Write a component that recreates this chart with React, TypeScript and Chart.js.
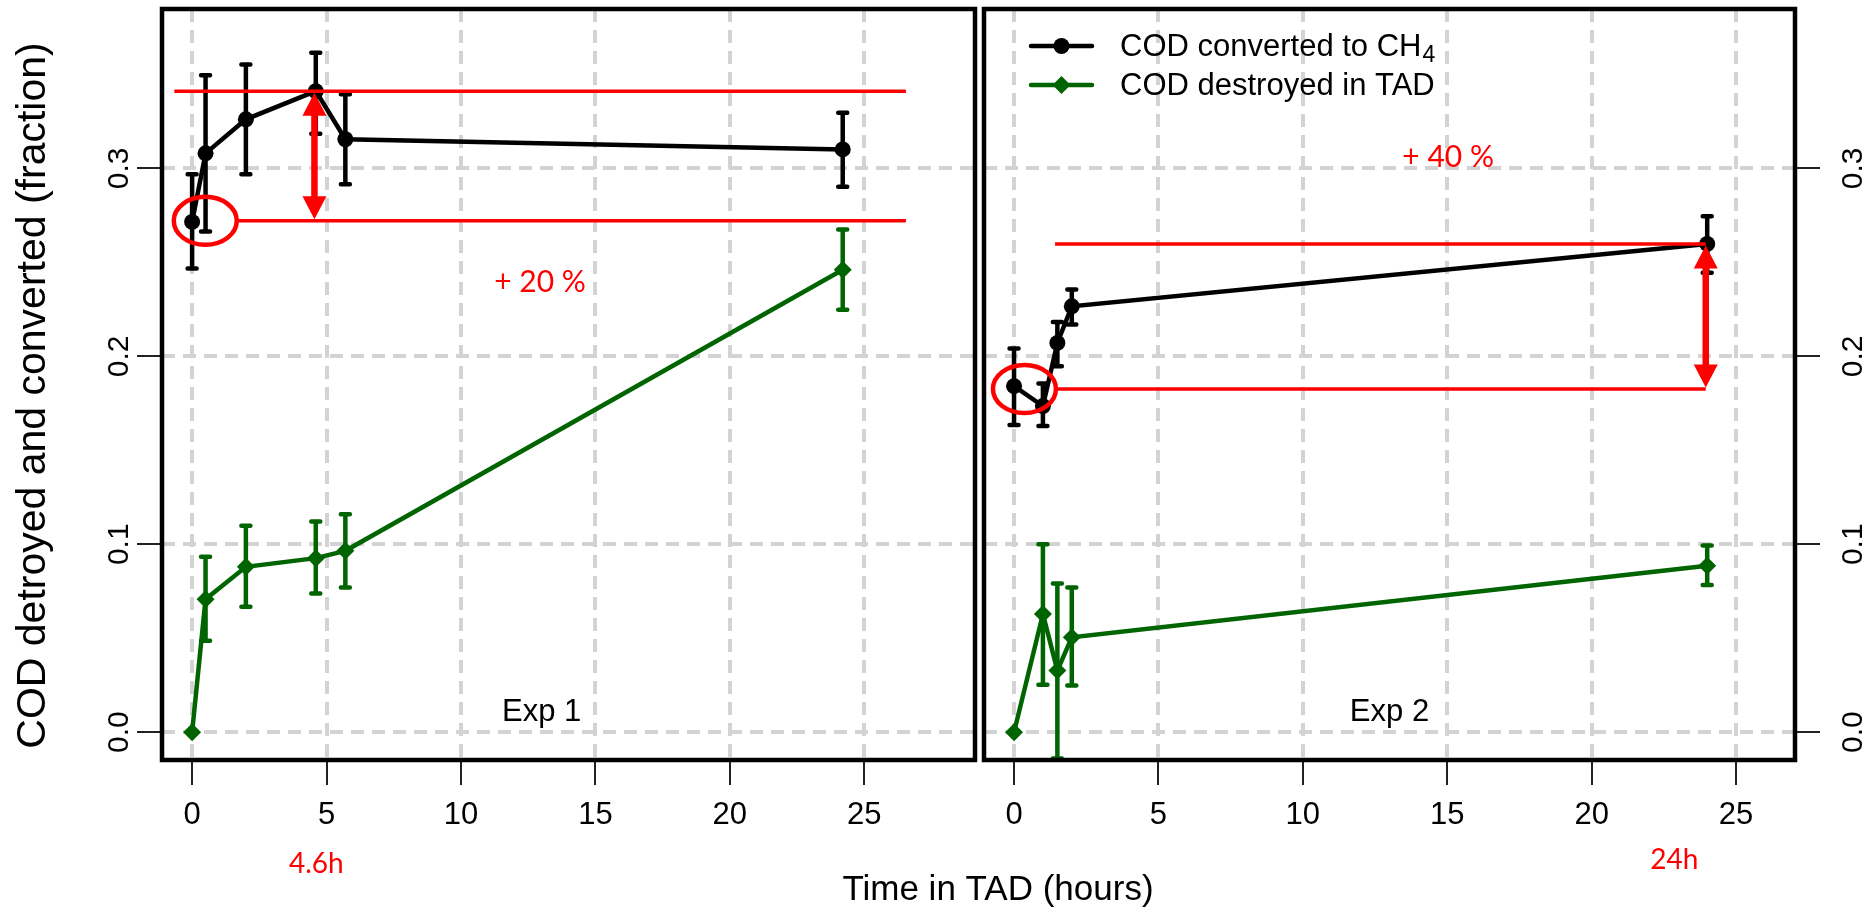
import React, { useEffect, useRef } from "react";
import { Chart, registerables } from "chart.js";

Chart.register(...registerables);

// ---------------- data ----------------
const seriesLabels = ["COD converted to CH₄", "COD destroyed in TAD"];
const panelLabels = ["Exp 1", "Exp 2"];
const gainLabels = ["+ 20 %", "+ 40 %"];
const timeLabels = ["4.6h", "24h"];
const xTitle = "Time in TAD (hours)";
const yTitle = "COD detroyed and converted (fraction)";
const xTickValues = [0, 5, 10, 15, 20, 25];
const yTickValues = [0, 0.1, 0.2, 0.3];

// Exp 1
const exp1Time = [0, 0.5, 2, 4.6, 5.7, 24.2];
const exp1Ch4 = [0.2715, 0.308, 0.3261, 0.3411, 0.3155, 0.3101];
const exp1Ch4Low = [0.2467, 0.2664, 0.2969, 0.3184, 0.2916, 0.2902];
const exp1Ch4High = [0.2969, 0.3496, 0.3553, 0.3615, 0.3394, 0.3296];
const exp1Tad = [0, 0.0708, 0.088, 0.0926, 0.0965, 0.2461];
const exp1TadLow = [0, 0.0487, 0.0668, 0.0738, 0.077, 0.2248];
const exp1TadHigh = [0, 0.0933, 0.1098, 0.1121, 0.116, 0.2675];

// Exp 2
const exp2Time = [0, 1, 1.5, 2, 24];
const exp2Ch4 = [0.1841, 0.1735, 0.2071, 0.2266, 0.2598];
const exp2Ch4Low = [0.1634, 0.1629, 0.1947, 0.2169, 0.2444];
const exp2Ch4High = [0.2041, 0.1855, 0.2183, 0.2355, 0.2745];
const exp2Tad = [0, 0.0629, 0.0328, 0.0505, 0.0886];
const exp2TadLow = [0, 0.0252, -0.014, 0.0248, 0.0783];
const exp2TadHigh = [0, 0.1, 0.0791, 0.077, 0.0993];

// reference levels (baseline, reached level) and marked times
const exp1Levels = [0.2721, 0.3411];
const exp2Levels = [0.1826, 0.2598];
const markedTimes = [4.55, 23.95];

// ---------------- style / layout ----------------
const W = 1866;
const H = 911;
const FONT = '"Liberation Sans", Arial, Helvetica, sans-serif';
const RED_FONT = 'Lato, "Open Sans", sans-serif';
const RED = "#ff0000";
const BLACK = "#000000";
const GREEN = "#006400";
const Y_MIN = -0.0148;
const Y_MAX = 0.3848;
const LINE_W = 4.5;

type PanelCfg = {
  index: number;
  xMin: number;
  xMax: number;
  padLeft: number;
  padRight: number;
  yPosition: "left" | "right";
  yWidth: number;
  times: number[];
  ch4: number[];
  ch4Low: number[];
  ch4High: number[];
  tad: number[];
  tadLow: number[];
  tadHigh: number[];
  levels: number[];
  markedTime: number;
  lineStarts: number[];
  lineEnd: number;
  circleX: number;
  gainX: number;
  gainY: number;
  timeLabelX: number;
  timeLabelDy: number;
  legend: boolean;
  titles: boolean;
};

const panels: PanelCfg[] = [
  {
    index: 0,
    xMin: -1.12,
    xMax: 29.12,
    padLeft: 0,
    padRight: W - 975,
    yPosition: "left",
    yWidth: 162,
    times: exp1Time,
    ch4: exp1Ch4,
    ch4Low: exp1Ch4Low,
    ch4High: exp1Ch4High,
    tad: exp1Tad,
    tadLow: exp1TadLow,
    tadHigh: exp1TadHigh,
    levels: exp1Levels,
    markedTime: markedTimes[0],
    lineStarts: [1.66, -0.66],
    lineEnd: 26.55,
    circleX: 0.49,
    gainX: 12.94,
    gainY: 0.2395,
    timeLabelX: 4.62,
    timeLabelDy: 113,
    legend: false,
    titles: true,
  },
  {
    index: 1,
    xMin: -1.04,
    xMax: 27.04,
    padLeft: 984,
    padRight: 0,
    yPosition: "right",
    yWidth: W - 1795,
    times: exp2Time,
    ch4: exp2Ch4,
    ch4Low: exp2Ch4Low,
    ch4High: exp2Ch4High,
    tad: exp2Tad,
    tadLow: exp2TadLow,
    tadHigh: exp2TadHigh,
    levels: exp2Levels,
    markedTime: markedTimes[1],
    lineStarts: [1.42, 1.42],
    lineEnd: 23.95,
    circleX: 0.36,
    gainX: 15.03,
    gainY: 0.3059,
    timeLabelX: 22.86,
    timeLabelDy: 109,
    legend: true,
    titles: false,
  },
];

function drawDoubleArrow(ctx: CanvasRenderingContext2D, x: number, yTop: number, yBot: number) {
  const head = 23;
  const half = 12;
  ctx.save();
  ctx.strokeStyle = RED;
  ctx.fillStyle = RED;
  ctx.lineWidth = 6.5;
  ctx.lineCap = "butt";
  ctx.beginPath();
  ctx.moveTo(x, yTop + head - 1);
  ctx.lineTo(x, yBot - head + 1);
  ctx.stroke();
  ctx.beginPath();
  ctx.moveTo(x, yTop);
  ctx.lineTo(x - half, yTop + head);
  ctx.lineTo(x + half, yTop + head);
  ctx.closePath();
  ctx.fill();
  ctx.beginPath();
  ctx.moveTo(x, yBot);
  ctx.lineTo(x - half, yBot - head);
  ctx.lineTo(x + half, yBot - head);
  ctx.closePath();
  ctx.fill();
  ctx.restore();
}

function drawMarker(ctx: CanvasRenderingContext2D, kind: string, x: number, y: number, color: string) {
  ctx.save();
  ctx.fillStyle = color;
  ctx.beginPath();
  if (kind === "circle") {
    ctx.arc(x, y, 8, 0, Math.PI * 2);
  } else {
    const r = 9;
    ctx.moveTo(x, y - r);
    ctx.lineTo(x + r, y);
    ctx.lineTo(x, y + r);
    ctx.lineTo(x - r, y);
    ctx.closePath();
  }
  ctx.fill();
  ctx.restore();
}

function drawLabelWithSubscript(ctx: CanvasRenderingContext2D, label: string, x: number, y: number) {
  const subs = "₀₁₂₃₄₅₆₇₈₉";
  let main = "";
  let sub = "";
  for (const ch of label) {
    const k = subs.indexOf(ch);
    if (k >= 0) sub += String(k);
    else main += ch;
  }
  ctx.font = `31px ${FONT}`;
  ctx.textAlign = "left";
  ctx.textBaseline = "alphabetic";
  ctx.fillText(main, x, y);
  if (sub) {
    const w = ctx.measureText(main).width;
    ctx.font = `23px ${FONT}`;
    ctx.fillText(sub, x + w + 1, y + 6);
  }
}

function makePlugin(p: PanelCfg) {
  return {
    id: "panelDecor" + p.index,
    beforeDatasetsDraw(chart: any) {
      const { ctx, chartArea: a } = chart;
      const xs = chart.scales.x;
      const ys = chart.scales.y;
      ctx.save();
      ctx.beginPath();
      ctx.rect(a.left, a.top, a.right - a.left, a.bottom - a.top);
      ctx.clip();
      chart.data.datasets.forEach((ds: any) => {
        ctx.strokeStyle = ds.borderColor;
        ctx.lineWidth = LINE_W;
        ctx.lineCap = "round";
        ds.data.forEach((pt: any, i: number) => {
          const lo = ds.errLow[i];
          const hi = ds.errHigh[i];
          if (hi - lo <= 0) return;
          const x = xs.getPixelForValue(pt.x);
          const y1 = ys.getPixelForValue(lo);
          const y2 = ys.getPixelForValue(hi);
          ctx.beginPath();
          ctx.moveTo(x, y1);
          ctx.lineTo(x, y2);
          ctx.moveTo(x - 4.5, y1);
          ctx.lineTo(x + 4.5, y1);
          ctx.moveTo(x - 4.5, y2);
          ctx.lineTo(x + 4.5, y2);
          ctx.stroke();
        });
      });
      ctx.restore();
    },
    afterDatasetsDraw(chart: any) {
      const { ctx } = chart;
      const xs = chart.scales.x;
      const ys = chart.scales.y;
      const yBase = ys.getPixelForValue(p.levels[0]);
      const yPeak = ys.getPixelForValue(p.levels[1]);
      const xEnd = xs.getPixelForValue(p.lineEnd);
      ctx.save();
      ctx.strokeStyle = RED;
      ctx.lineWidth = 3.5;
      ctx.lineCap = "butt";
      // baseline level
      ctx.beginPath();
      ctx.moveTo(xs.getPixelForValue(p.lineStarts[0]), yBase);
      ctx.lineTo(xEnd, yBase);
      ctx.stroke();
      // reached level
      ctx.beginPath();
      ctx.moveTo(xs.getPixelForValue(p.lineStarts[1]), yPeak);
      ctx.lineTo(xEnd, yPeak);
      ctx.stroke();
      // circle around the start value
      ctx.lineWidth = 4.5;
      ctx.beginPath();
      ctx.ellipse(xs.getPixelForValue(p.circleX), yBase, 31.5, 24, 0, 0, Math.PI * 2);
      ctx.stroke();
      ctx.restore();
      drawDoubleArrow(ctx, xs.getPixelForValue(p.markedTime), yPeak + 1.5, yBase - 1.5);
      // gain text
      ctx.save();
      ctx.fillStyle = RED;
      ctx.font = `30px ${RED_FONT}`;
      ctx.textAlign = "center";
      ctx.textBaseline = "middle";
      ctx.fillText(gainLabels[p.index], xs.getPixelForValue(p.gainX), ys.getPixelForValue(p.gainY));
      ctx.restore();
    },
    afterDraw(chart: any) {
      const { ctx, chartArea: a } = chart;
      const xs = chart.scales.x;
      const ys = chart.scales.y;
      ctx.save();
      // panel label
      ctx.fillStyle = BLACK;
      ctx.font = `31px ${FONT}`;
      ctx.textAlign = "center";
      ctx.textBaseline = "middle";
      ctx.fillText(panelLabels[p.index], xs.getPixelForValue(13), ys.getPixelForValue(0.0105));
      // box
      ctx.strokeStyle = BLACK;
      ctx.lineWidth = 4.5;
      ctx.strokeRect(a.left, a.top, a.right - a.left, a.bottom - a.top);
      // rotated y tick labels
      ctx.font = `30px ${FONT}`;
      ctx.textAlign = "center";
      ctx.textBaseline = "alphabetic";
      const xLab = p.yPosition === "left" ? a.left - 34 : a.right + 67;
      yTickValues.forEach((v) => {
        const y = ys.getPixelForValue(v);
        ctx.save();
        ctx.translate(xLab, y);
        ctx.rotate(-Math.PI / 2);
        ctx.fillText(v.toFixed(1), 0, 0);
        ctx.restore();
      });
      // red time label under the axis
      ctx.fillStyle = RED;
      ctx.font = `28px ${RED_FONT}`;
      ctx.textAlign = "center";
      ctx.textBaseline = "alphabetic";
      ctx.fillText(timeLabels[p.index], xs.getPixelForValue(p.timeLabelX), a.bottom + p.timeLabelDy);
      // axis titles (shared by both panels)
      if (p.titles) {
        ctx.fillStyle = BLACK;
        ctx.font = `35px ${FONT}`;
        ctx.textAlign = "center";
        ctx.textBaseline = "alphabetic";
        ctx.fillText(xTitle, a.right + 23, a.bottom + 140);
        ctx.save();
        ctx.font = `41px ${FONT}`;
        ctx.textBaseline = "middle";
        ctx.translate(a.left - 128, (a.top + a.bottom) / 2 + 11);
        ctx.rotate(-Math.PI / 2);
        ctx.fillText(yTitle, 0, 0);
        ctx.restore();
      }
      // legend
      if (p.legend) {
        const entries = [
          { label: seriesLabels[0], color: BLACK, kind: "circle", y: a.top + 37, base: a.top + 47 },
          { label: seriesLabels[1], color: GREEN, kind: "diamond", y: a.top + 76, base: a.top + 85.5 },
        ];
        const x1 = a.left + 47;
        const x2 = a.left + 108;
        entries.forEach((e) => {
          ctx.strokeStyle = e.color;
          ctx.lineWidth = LINE_W;
          ctx.lineCap = "round";
          ctx.beginPath();
          ctx.moveTo(x1, e.y);
          ctx.lineTo(x2, e.y);
          ctx.stroke();
          drawMarker(ctx, e.kind, (x1 + x2) / 2, e.y, e.color);
          ctx.fillStyle = BLACK;
          drawLabelWithSubscript(ctx, e.label, a.left + 136, e.base);
        });
      }
      ctx.restore();
    },
  };
}

function makeChart(canvas: HTMLCanvasElement, p: PanelCfg) {
  const gridOpts = {
    color: "#d3d3d3",
    lineWidth: 4,
    drawTicks: true,
    tickLength: 25,
    tickColor: "#222",
    tickWidth: 2,
  };
  return new Chart(canvas, {
    type: "line",
    data: {
      datasets: [
        {
          label: seriesLabels[1],
          data: p.times.map((t, i) => ({ x: t, y: p.tad[i] })),
          borderColor: GREEN,
          backgroundColor: GREEN,
          borderWidth: LINE_W,
          pointStyle: "rectRot",
          pointRadius: 9,
          pointBackgroundColor: GREEN,
          pointBorderColor: GREEN,
          pointBorderWidth: 0,
          tension: 0,
          errLow: p.tadLow,
          errHigh: p.tadHigh,
        } as any,
        {
          label: seriesLabels[0],
          data: p.times.map((t, i) => ({ x: t, y: p.ch4[i] })),
          borderColor: BLACK,
          backgroundColor: BLACK,
          borderWidth: LINE_W,
          pointStyle: "circle",
          pointRadius: 8,
          pointBackgroundColor: BLACK,
          pointBorderColor: BLACK,
          pointBorderWidth: 0,
          tension: 0,
          errLow: p.ch4Low,
          errHigh: p.ch4High,
        } as any,
      ],
    },
    options: {
      responsive: false,
      maintainAspectRatio: false,
      animation: false,
      devicePixelRatio: 1,
      events: [],
      layout: {
        padding: { left: p.padLeft, right: p.padRight, top: 8, bottom: 0 },
      },
      plugins: {
        legend: { display: false },
        tooltip: { enabled: false },
        title: { display: false },
      },
      scales: {
        x: {
          type: "linear",
          position: "bottom",
          min: p.xMin,
          max: p.xMax,
          afterBuildTicks: (s: any) => {
            s.ticks = xTickValues.map((v) => ({ value: v }));
          },
          afterFit: (s: any) => {
            s.height = H - 760;
          },
          ticks: {
            color: BLACK,
            font: { family: FONT, size: 31 },
            padding: 12,
            autoSkip: false,
            maxRotation: 0,
            minRotation: 0,
            callback: (v: any) => String(v),
          },
          grid: gridOpts,
          border: { display: false, dash: [13, 8] },
        } as any,
        y: {
          type: "linear",
          position: p.yPosition,
          min: Y_MIN,
          max: Y_MAX,
          afterBuildTicks: (s: any) => {
            s.ticks = yTickValues.map((v) => ({ value: v }));
          },
          afterFit: (s: any) => {
            s.width = p.yWidth;
          },
          ticks: { display: false },
          grid: gridOpts,
          border: { display: false, dash: [13, 8] },
        } as any,
      },
    },
    plugins: [makePlugin(p)],
  } as any);
}

export default function App() {
  const ref1 = useRef<HTMLCanvasElement>(null);
  const ref2 = useRef<HTMLCanvasElement>(null);
  useEffect(() => {
    const c1 = makeChart(ref1.current as HTMLCanvasElement, panels[0]);
    const c2 = makeChart(ref2.current as HTMLCanvasElement, panels[1]);
    return () => {
      c1.destroy();
      c2.destroy();
    };
  }, []);
  const canvasStyle: React.CSSProperties = { position: "absolute", left: 0, top: 0, width: W, height: H };
  return (
    <div style={{ position: "fixed", left: 0, top: 0, width: W, height: H, background: "#ffffff" }}>
      <canvas ref={ref1} width={W} height={H} style={canvasStyle} />
      <canvas ref={ref2} width={W} height={H} style={canvasStyle} />
    </div>
  );
}
